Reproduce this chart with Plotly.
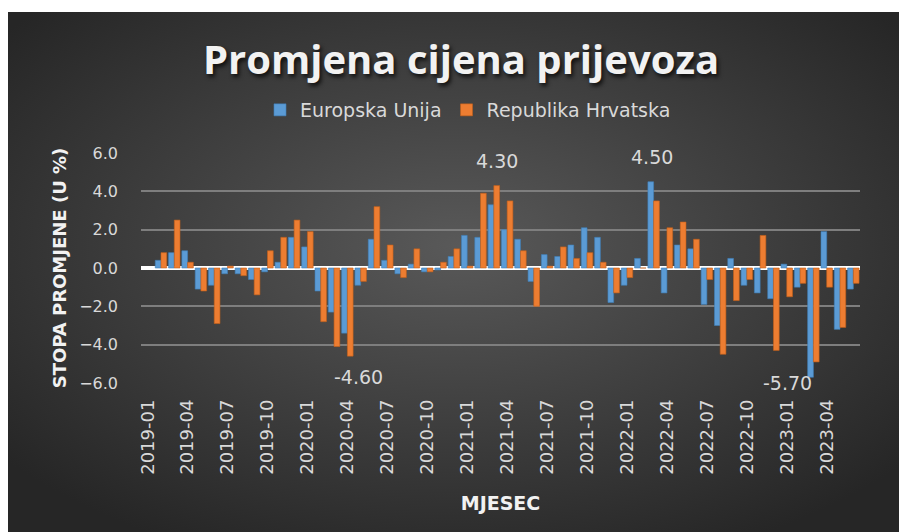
import base64
import plotly.graph_objects as go

# ---------------- data ----------------
months = [f"{y}-{m:02d}" for y in range(2019, 2024) for m in range(1, 13)][:54]

eu_values = [None,
             0.4, 0.8, 0.9, -1.1, -0.9, -0.3, -0.3, -0.6, -0.2, 0.3, 1.6,
             1.1, -1.2, -2.3, -3.4, -0.9, 1.5, 0.4, -0.3, 0.2, -0.2, -0.1, 0.6,
             1.7, 1.6, 3.3, 2.0, 1.5, -0.7, 0.7, 0.6, 1.2, 2.1, 1.6, -1.8,
             -0.9, 0.5, 4.5, -1.3, 1.2, 1.0, -1.9, -3.0, 0.5, -0.9, -1.3, -1.6,
             0.2, -1.0, -5.7, 1.9, -3.2, -1.1]

hr_values = [None,
             0.8, 2.5, 0.3, -1.2, -2.9, 0.1, -0.4, -1.4, 0.9, 1.6, 2.5,
             1.9, -2.8, -4.1, -4.6, -0.7, 3.2, 1.2, -0.5, 1.0, -0.2, 0.3, 1.0,
             0.1, 3.9, 4.3, 3.5, 0.9, -2.0, 0.1, 1.1, 0.5, 0.8, 0.3, -1.3,
             -0.5, 0.0, 3.5, 2.1, 2.4, 1.5, -0.6, -4.5, -1.7, -0.6, 1.7, -4.3,
             -1.5, -0.8, -4.9, -1.0, -3.1, -0.8]

tick_labels = months[::3]
series_names = ["Europska Unija", "Republika Hrvatska"]

# labelled points: (series, month)
labelled = [("hr", "2021-03"), ("eu", "2022-03"), ("hr", "2020-04"), ("eu", "2023-03")]

# ---------------- styling ----------------
# the page body has an 8px margin, so the figure is sized to fill the window
W, H = 899, 524
ML, MR, MT, MB = 133, 47, 145, 149
PW, PH = W - ML - MR, H - MT - MB

blue = "#5B9BD5"
orange = "#ED7D31"

fig = go.Figure()
fig.add_trace(go.Bar(x=months, y=eu_values, name=series_names[0],
                     marker=dict(color=blue, line=dict(color="#3f7fb8", width=0.6))))
fig.add_trace(go.Bar(x=months, y=hr_values, name=series_names[1],
                     marker=dict(color=orange, line=dict(color="#c45f1a", width=0.6))))

# data labels
series_map = {"eu": eu_values, "hr": hr_values}
label_shift = {("hr", "2021-03"): (3, 25), ("eu", "2022-03"): (-2, 25),
               ("hr", "2020-04"): (11, -21), ("eu", "2023-03"): (-26, -6)}
for s, m in labelled:
    v = series_map[s][months.index(m)]
    dx, dy = label_shift[(s, m)]
    fig.add_annotation(x=m, y=v, text=f"{v:.2f}", showarrow=False,
                       xshift=dx, yshift=dy, yanchor="middle",
                       font=dict(family="DejaVu Sans", size=19, color="#d9d9d9"))

# background gradient image
BX0, BY0 = 0, 4
BW, BH = W - BX0, H - BY0
svg = (f'<svg xmlns="http://www.w3.org/2000/svg" width="{BW}" height="{BH}">'
       '<defs><radialGradient id="g" cx="50%" cy="45%" r="65%">'
       '<stop offset="0" stop-color="#595959"/><stop offset="1" stop-color="#262626"/>'
       f'</radialGradient></defs><rect width="{BW}" height="{BH}" fill="url(#g)"/></svg>')
src = "data:image/svg+xml;base64," + base64.b64encode(svg.encode()).decode()
fig.add_layout_image(source=src, xref="paper", yref="paper",
                     x=(BX0 - ML) / PW, y=(H - MB - BY0) / PH,
                     sizex=BW / PW, sizey=BH / PH,
                     xanchor="left", yanchor="top", sizing="stretch", layer="below")

fig.update_layout(
    width=W, height=H,
    margin=dict(l=ML, r=MR, t=MT, b=MB, autoexpand=False),
    paper_bgcolor="white", plot_bgcolor="rgba(0,0,0,0)",
    barmode="group", bargap=0.14, bargroupgap=0.0,
    title=dict(text="Promjena cijena prijevoza", xref="container", yref="container",
               x=453 / W, y=1 - 52 / H, xanchor="center", yanchor="middle",
               font=dict(family="Open Sans", size=40, weight="bold", color="#f2f2f2",
                         shadow="2px 3px 4px rgba(0,0,0,0.75)")),
    legend=dict(orientation="h", x=(460 - ML) / PW, xanchor="center",
                y=(H - MB - 102) / PH, yanchor="middle",
                font=dict(family="DejaVu Sans", size=19, color="#d9d9d9"),
                bgcolor="rgba(0,0,0,0)", itemwidth=30, traceorder="normal"),
    showlegend=True,
    xaxis=dict(type="category", tickmode="array", tickvals=tick_labels, ticktext=tick_labels,
               tickangle=-90, showgrid=False, zeroline=False, showline=False,
               ticks="", ticklabelstandoff=12,
               tickfont=dict(family="DejaVu Sans", size=18, color="#d9d9d9"),
               title=dict(text="MJESEC", standoff=22,
                          font=dict(family="DejaVu Sans", size=19, weight="bold", color="#f2f2f2")),
               range=[-0.5, 53.5], automargin=False),
    yaxis=dict(range=[-6, 6], dtick=2, tick0=0, tickformat=".1f",
               showgrid=True, gridcolor="#7e7e7e", gridwidth=2,
               zeroline=True, zerolinecolor="#ffffff", zerolinewidth=4,
               showline=False, ticks="", ticklabelstandoff=22,
               tickfont=dict(family="DejaVu Sans", size=16, color="#d9d9d9"),
               title=dict(text="STOPA PROMJENE (U %)", standoff=7,
                          font=dict(family="DejaVu Sans", size=18, weight="bold", color="#f2f2f2")),
               automargin=False),
)

fig.write_html("out.html")
